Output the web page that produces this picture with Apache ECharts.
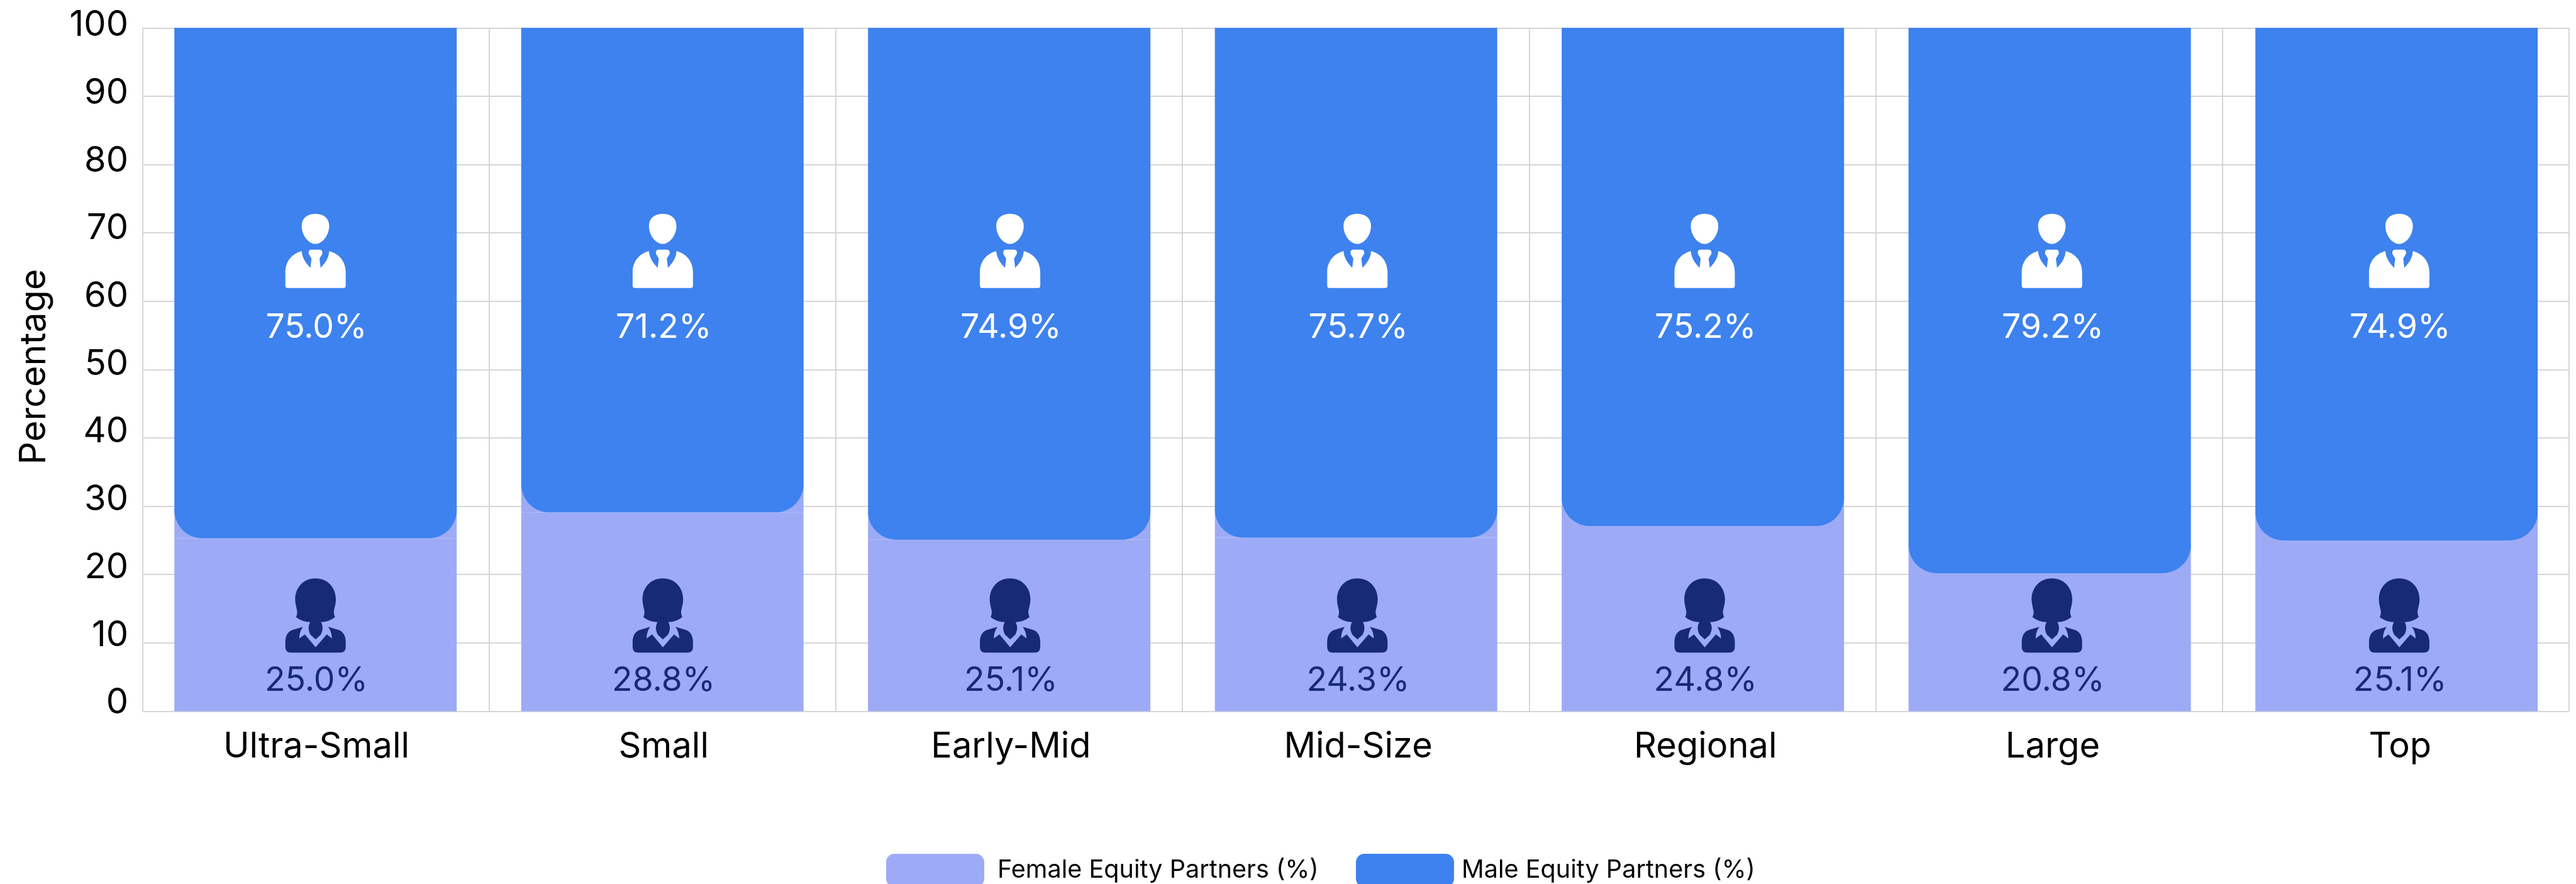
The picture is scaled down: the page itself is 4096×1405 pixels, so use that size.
<!DOCTYPE html>
<html><head><meta charset="utf-8">
<style>html,body{margin:0;padding:0;background:#fff;overflow:hidden}#c{width:4096px;height:1405px}</style>
<script src="https://cdn.jsdelivr.net/npm/echarts@6/dist/echarts.min.js"></script>
</head><body><div id="c"></div>
<script>
const categories = ['Ultra-Small','Small','Early-Mid','Mid-Size','Regional','Large','Top'];
const femaleBars = [25.3,29.1,25.1,25.4,27.1,20.2,25.0];
const maleBars = [74.7,70.9,74.9,74.6,72.9,79.8,75.0];
const femaleLabels = ['25.0%','28.8%','25.1%','24.3%','24.8%','20.8%','25.1%'];
const maleLabels = ['75.0%','71.2%','74.9%','75.7%','75.2%','79.2%','74.9%'];
const FEMALE='Female Equity Partners (%)', MALE='Male Equity Partners (%)';
const cFemale='#9dabf7', cMale='#3d82ee', cDark='#172a75', cGrid='#d6d6d6';
const FONT='Inter';
const maleIcon='path://M257 70C305 70 331 98 331 135C331 185 295 232 257 232C219 232 183 185 183 135C183 98 209 70 257 70ZM183 270C130 285 95 325 95 385L95 455Q95 468 108 468L407 468Q420 468 420 455L420 385C420 325 385 285 331 270C330 305 310 335 285 360L279 310L294 285Q297 262 280 262L235 262Q218 262 221 285L236 310L230 360C205 335 185 305 183 270Z';
const femaleIcon='path://M257 78C325 78 367 130 367 190C367 225 352 250 357 270L362 285C345 300 320 310 287 312C300 335 297 360 285 380L258 405L231 380C219 360 216 335 229 312C195 310 170 300 153 285L158 270C163 250 148 225 148 190C148 130 190 78 257 78ZM190 337L130 355C108 365 95 385 95 420L95 445Q95 476 125 476L390 476Q420 476 420 445L420 420C420 385 407 365 385 355L325 337C335 350 345 370 346 400L318 378L258 447L200 378L170 400C171 370 180 350 190 337Z';
const BAR_W=449, RADIUS=45;
const LINES=0, TICKS=1, MARKS=2, BARS=3; // axis sets
function iconSeries(sym,y,color){return {type:'scatter',xAxisIndex:MARKS,yAxisIndex:MARKS,silent:true,z:5,symbol:sym,symbolSize:[96,118],symbolOffset:[-1.3,0],
  itemStyle:{color:color,opacity:1},data:categories.map(c=>[c,y])};}
function labelSeries(labels,y,color){return {type:'scatter',xAxisIndex:MARKS,yAxisIndex:MARKS,silent:true,z:6,symbolSize:1,itemStyle:{color:'rgba(0,0,0,0)',opacity:1},
  data:categories.map((c,i)=>({value:[c,y],label:{formatter:labels[i]}})),
  label:{show:true,position:'inside',color:color,fontFamily:FONT,fontSize:53.5,fontWeight:400}};}
const hiddenX=g=>({type:'category',gridIndex:g,data:categories,show:false});
const hiddenY=g=>({type:'value',gridIndex:g,min:0,max:100,interval:10,show:false});
const option={
  animation:false,backgroundColor:'#fff',
  grid:[{left:227,right:11.5,top:44.3,bottom:274.6},
        {left:227,right:11.5,top:40.5,bottom:287.6},
        {left:226.9,right:3.7,top:44.3,bottom:274.6},
        {left:226,right:9.6,top:44.3,bottom:274.6}],
  legend:[
   {data:[FEMALE],left:1409,top:1357,itemWidth:156,itemHeight:53,icon:'roundRect',padding:0,
    textStyle:{fontFamily:FONT,fontSize:39.6,color:'#000',padding:[0,0,12,16]}},
   {data:[MALE],left:2156,top:1357,itemWidth:156,itemHeight:53,icon:'roundRect',padding:0,
    textStyle:{fontFamily:FONT,fontSize:39.6,color:'#000',padding:[0,0,12,7]}}],
  xAxis:[{type:'category',gridIndex:0,data:categories,axisTick:{show:false},axisLabel:{show:false},
     axisLine:{show:true,lineStyle:{color:cGrid,width:2}},
     splitLine:{show:true,lineStyle:{color:cGrid,width:2}}},
    hiddenX(1),
    {type:'category',gridIndex:2,data:categories,axisTick:{show:false},axisLine:{show:false},splitLine:{show:false},
     axisLabel:{color:'#000',fontFamily:FONT,fontSize:56,margin:29,interval:0}},
    hiddenX(3)],
  yAxis:[{type:'value',gridIndex:0,min:0,max:100,interval:10,axisLabel:{show:false},axisLine:{show:false},axisTick:{show:false},
     splitLine:{show:true,lineStyle:{color:cGrid,width:2}}},
    {type:'value',gridIndex:1,min:0,max:100,interval:10,axisLine:{show:false},axisTick:{show:false},splitLine:{show:false},
     axisLabel:{color:'#000',fontFamily:FONT,fontSize:56,margin:23},
     name:'Percentage',nameLocation:'middle',nameGap:143,nameTextStyle:{color:'#000',fontFamily:FONT,fontSize:57.5,padding:[0,8,0,0]}},
    hiddenY(2),hiddenY(3)],
  series:[
   {type:'custom',xAxisIndex:BARS,yAxisIndex:BARS,silent:true,z:1,data:femaleBars.map((v,i)=>[i,v]),encode:{x:0,y:1},
    renderItem:(p,api)=>{const pt=api.coord([api.value(0),api.value(1)]);
      return {type:'rect',shape:{x:pt[0]-BAR_W/2,y:pt[1]-RADIUS,width:BAR_W,height:RADIUS},style:{fill:cFemale}};}},
   {name:FEMALE,type:'bar',xAxisIndex:BARS,yAxisIndex:BARS,stack:'t',barWidth:BAR_W,z:2,data:femaleBars,itemStyle:{color:cFemale}},
   {name:MALE,type:'bar',xAxisIndex:BARS,yAxisIndex:BARS,stack:'t',barWidth:BAR_W,z:2,data:maleBars,itemStyle:{color:cMale,borderRadius:[0,0,RADIUS,RADIUS]}},
   iconSeries(maleIcon,67.36,'#fff'),
   iconSeries(femaleIcon,14.0,cDark),
   labelSeries(maleLabels,56.1,'#fff'),
   labelSeries(femaleLabels,4.5,cDark)
  ]
};
echarts.init(document.getElementById('c'),null,{renderer:'canvas'}).setOption(option);
</script></body></html>
